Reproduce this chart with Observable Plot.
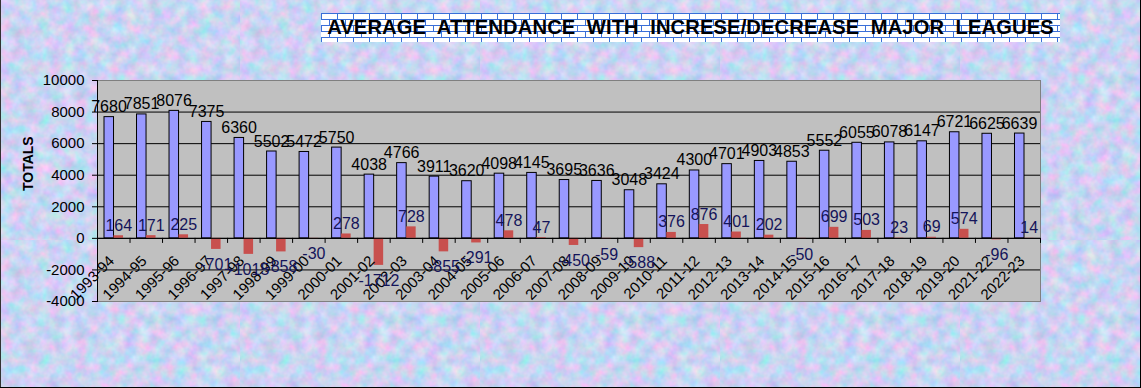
<!DOCTYPE html>
<html>
<head>
<meta charset="utf-8">
<script src="https://cdn.jsdelivr.net/npm/d3@7"></script>
<script src="https://cdn.jsdelivr.net/npm/@observablehq/plot@0.6"></script>
<style>
  html, body { margin: 0; padding: 0; }
  #chart {
    position: relative;
    width: 1141px; height: 388px; overflow: hidden;
    background-color: #c9d3f3;
    background-image: url("data:image/svg+xml,%3Csvg xmlns='http://www.w3.org/2000/svg' width='240' height='240'%3E%3Cfilter id='n' color-interpolation-filters='sRGB'%3E%3CfeTurbulence type='fractalNoise' baseFrequency='0.08' numOctaves='3' seed='7'/%3E%3CfeColorMatrix values='0.45 -0.22 0 0 0.68  0 0.28 0 0 0.69  0 0 0.14 0 0.88  0 0 0 0 1'/%3E%3C/filter%3E%3Crect width='240' height='240' filter='url(%23n)'/%3E%3C/svg%3E");
    box-shadow: inset -1px -1px 0 #000, inset 1px 0 0 #333;
  }
  #chart svg { position: absolute; left: 0; top: 0; }
  #title {
    position: absolute; left: 321px; top: 13px; width: 739px; height: 29px;
    background-color: #ffffff;
    background-image: url("data:image/svg+xml,%3Csvg xmlns='http://www.w3.org/2000/svg' width='16' height='12'%3E%3Cpath d='M0 0.5H16M0 6.5H16M0.5 0V6.5M8.5 6.5V12' stroke='%233a6fd8' stroke-width='1' fill='none'/%3E%3C/svg%3E");
    font-family: Arial, "Liberation Sans", sans-serif; font-weight: bold; font-size: 20.2px;
    line-height: 29px; text-align: center; color: #000; white-space: pre; letter-spacing: 0.1px;
  }
</style>
</head>
<body>
<div id="chart">
  <div id="title">AVERAGE  ATTENDANCE  WITH  INCRESE/DECREASE  MAJOR  LEAGUES</div>
</div>
<script>
const seasons = ["1993-94","1994-95","1995-96","1996-97","1997-98","1998-99","1999-00","2000-01","2001-02","2002-03","2003-04","2004-05","2005-06","2006-07","2007-08","2008-09","2009-10","2010-11","2011-12","2012-13","2013-14","2014-15","2015-16","2016-17","2017-18","2018-19","2019-20","2021-22","2022-23"];
const attendance = [7680,7851,8076,7375,6360,5502,5472,5750,4038,4766,3911,3620,4098,4145,3695,3636,3048,3424,4300,4701,4903,4853,5552,6055,6078,6147,6721,6625,6639];
const change = [164,171,225,-701,-1015,-858,-30,278,-1712,728,-855,-291,478,47,-450,-59,-588,376,876,401,202,-50,699,503,23,69,574,-96,14];
const yTicks = [-4000,-2000,0,2000,4000,6000,8000,10000];
const gridValues = [-2000,0,2000,4000,6000,8000];
const yLabel = "TOTALS";

const data = seasons.map((s, i) => ({season: s, attendance: attendance[i], change: change[i]}));
const FONT = "Arial, 'Liberation Sans', sans-serif";

const chart = Plot.plot({
  width: 1141,
  height: 388,
  marginLeft: 97,
  marginRight: 101,
  marginTop: 80,
  marginBottom: 87,
  style: {background: "transparent", fontFamily: FONT, color: "#000", overflow: "visible"},
  x: {domain: seasons, padding: 0, round: false, axis: null},
  y: {domain: [yTicks[0], yTicks[yTicks.length - 1]], axis: null},
  marks: [
    Plot.frame({fill: "#C0C0C0", stroke: "none"}),
    Plot.ruleY(gridValues, {stroke: "#000", strokeWidth: 1}),
    Plot.frame({stroke: "#808080"}),
    Plot.frame({anchor: "left", stroke: "#000"}),
    Plot.axisY({ticks: yTicks, tickSize: 5, tickPadding: 8, fontSize: 15, tickFormat: d => String(d), label: null, stroke: "#000"}),
    Plot.barY(data, {x: "season", y: "attendance", fill: "#9999FF", stroke: "#000", strokeWidth: 1, insetLeft: 7, insetRight: 16}),
    Plot.barY(data, {x: "season", y: "change", fill: "#C8504E", insetLeft: 16.5, insetRight: 6.5}),
    Plot.ruleY([0], {stroke: "#000", strokeWidth: 1}),
    Plot.ruleX(data, {x: "season", y1: 0, y2: -320, dx: 16.26, stroke: "#000"}),
    Plot.text(data, {x: "season", y: 0, text: "season", rotate: -45, textAnchor: "end", lineAnchor: "middle", dx: -2, dy: 20, fontSize: 15, fill: "#000"}),
    Plot.text(data, {x: "season", y: "attendance", text: d => String(d.attendance), dx: -4.75, dy: -5, lineAnchor: "bottom", fontSize: 16, fill: "#000"}),
    Plot.text(data.filter(d => d.change >= 0), {x: "season", y: "change", text: d => String(d.change), dx: 5, dy: -5, lineAnchor: "bottom", fontSize: 16, fill: "#14145a"}),
    Plot.text(data.filter(d => d.change < 0), {x: "season", y: "change", text: d => String(d.change), dx: 5, dy: 9, lineAnchor: "top", fontSize: 16, fill: "#14145a"}),
    Plot.text([yLabel], {frameAnchor: "left", rotate: -90, dx: -69, fontWeight: "bold", fontSize: 14, fill: "#000"})
  ]
});
document.getElementById("chart").insertBefore(chart, document.getElementById("title"));
</script>
</body>
</html>
